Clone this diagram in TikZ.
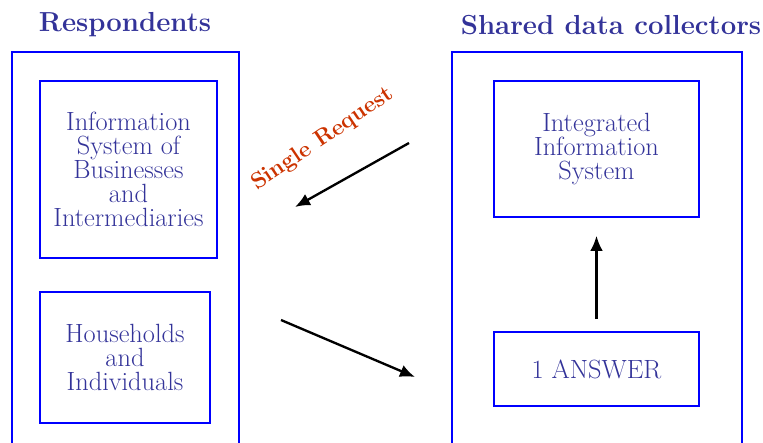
\documentclass[tikz,border=0pt]{standalone}
\usepackage{tikz}
\usetikzlibrary{positioning, arrows.meta}
\definecolor{textblue}{RGB}{51,51,153}
\definecolor{lineblue}{RGB}{0,0,255}
\definecolor{reqred}{RGB}{204,51,0}

\begin{document}
\begin{tikzpicture}[x=0.03cm, y=-0.03cm,
  box/.style = {draw=lineblue, line width=1.4pt, inner sep=0pt},
  txt/.style = {text=textblue, align=center, font=\fontsize{22.5}{20.5}\selectfont},
  head/.style = {text=textblue, font=\fontsize{23.5}{28}\selectfont\bfseries},
  flow/.style = {line width=2pt, -{Latex[length=4.5mm, width=3.8mm]}}]
\useasboundingbox (0,0) rectangle (763,442);

% headings
\node[head] (hresp) at (125,25) {Respondents};
\node[head] (hcoll) at (611,25) {Shared data collectors};

% outer frames, open below the page edge
\node[box, minimum width=6.81cm, minimum height=12.24cm] (resp) at (125.5,256) {};
\node[box, minimum width=8.7cm, minimum height=12.24cm] (coll) at (597,256) {};

% inner boxes
\node[box, txt, minimum width=5.31cm, minimum height=5.31cm] (business) at (128.5,169.5)
  {Information\\System of\\Businesses\\and\\Intermediaries};
\node[box, txt, minimum width=5.1cm, minimum height=3.93cm] (house) at (125,357.5)
  {Households\\and\\Individuals};
\node[box, txt, minimum width=6.15cm, minimum height=4.08cm] (integ) at (596.5,149)
  {Integrated\\Information\\System};
\node[box, txt, minimum width=6.15cm, minimum height=2.22cm] (answer) at (596.5,369)
  {1 ANSWER};

% request and reply
\node[rotate=34, text=reqred, font=\fontsize{19.5}{22}\selectfont\bfseries] (single) at (323,139) {Single Request};
\coordinate (req1) at (409,143);
\coordinate (req2) at (295,207);
\coordinate (ans1) at (281,320);
\coordinate (ans2) at (415,377);

\draw[flow] (req1) -- (req2);
\draw[flow] (ans1) -- (ans2);
\draw[flow, shorten <=0.36cm, shorten >=0.54cm] (answer.north) -- (integ.south);
\end{tikzpicture}
\end{document}
